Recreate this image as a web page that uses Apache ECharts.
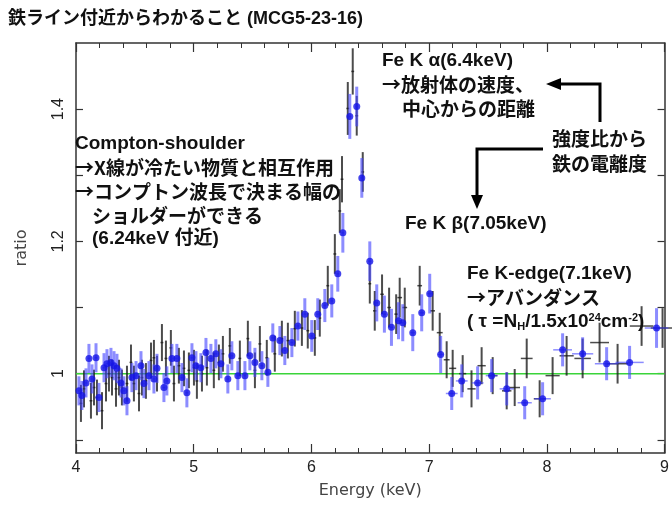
<!DOCTYPE html>
<html>
<head>
<meta charset="utf-8">
<script src="https://cdn.jsdelivr.net/npm/echarts@6/dist/echarts.min.js"></script>
<style>html,body{margin:0;padding:0;background:#fff}#c{width:672px;height:507px}</style>
</head>
<body>
<div id="c"></div>
<script>
// [energy keV, ratio, ratio error, energy half-width]
const blackPoints = [
[4.042,0.955,.028,.012],[4.068,0.977,.028,.012],[4.127,0.959,.027,.012],[4.153,0.979,.027,.012],
[4.178,0.964,.027,.012],[4.221,0.944,.028,.012],[4.255,0.985,.027,.012],[4.28,1.0,.027,.012],
[4.306,0.994,.027,.012],[4.34,0.977,.027,.012],[4.365,0.994,.027,.012],[4.39,0.979,.027,.012],
[4.433,0.985,.027,.012],[4.467,1.017,.027,.012],[4.492,0.985,.027,.012],[4.535,0.970,.027,.012],
[4.56,0.994,.027,.012],[4.594,0.989,.027,.012],[4.637,1.020,.027,.012],[4.662,1.024,.027,.012],
[4.688,1.0,.027,.012],[4.73,1.047,.028,.012],[4.764,1.023,.027,.012],[4.806,1.039,.027,.012],
[4.832,0.985,.027,.012],[4.874,1.012,.027,.012],[4.917,1.008,.027,.012],[4.959,1.005,.027,.012],
[5.002,1.009,.027,.012],[5.027,0.989,.027,.012],[5.07,1.0,.027,.012],[5.112,1.009,.027,.012],
[5.171,1.005,.027,.012],[5.214,1.017,.027,.012],[5.248,1.030,.027,.012],[5.307,1.042,.027,.012],
[5.392,1.023,.027,.012],[5.46,1.053,.027,.012],[5.52,1.005,.027,.012],[5.562,1.045,.027,.012],
[5.621,1.024,.027,.012],[5.689,1.030,.027,.012],[5.749,1.053,.027,.012],[5.8,1.050,.027,.012],
[5.859,1.068,.027,.012],[5.919,1.069,.027,.012],[5.969,1.065,.027,.012],[6.029,1.054,.027,.012],
[6.071,1.084,.028,.012],[6.139,1.133,.03,.012],[6.199,1.181,.03,.012],[6.241,1.246,.033,.012],
[6.26,1.294,.035,.012],[6.309,1.401,.04,.012],[6.351,1.457,.035,.012],[6.385,1.39,.03,.012],
[6.436,1.305,.03,.012],[6.496,1.136,.03,.012],[6.538,1.095,.03,.015],[6.60,1.12,.03,.015],
[6.66,1.10,.03,.015],[6.72,1.09,.03,.015],[6.75,1.115,.03,.02],[6.793,1.10,.03,.02],
[6.92,1.133,.03,.02],[7.03,1.095,.03,.02],[7.09,1.062,.03,.025],[7.149,1.021,.028,.025],
[7.2,1.008,.028,.03],[7.285,1.0,.028,.03],[7.36,0.977,.028,.035],[7.446,1.012,.028,.035],
[7.54,0.997,.028,.04],[7.659,0.974,.028,.04],[7.727,0.979,.028,.045],[7.829,1.023,.03,.05],
[7.939,0.962,.028,.05],[8.049,0.997,.028,.06],[8.168,1.027,.03,.06],[8.304,1.023,.03,.07],
[8.448,1.047,.03,.08],[8.601,1.015,.03,.09],[8.805,1.072,.03,.1],[8.983,1.069,.03,.1]
];
const bluePoints = [
[4.025,0.974,.022,.012],[4.05,0.967,.022,.012],[4.085,0.986,.022,.012],[4.11,1.023,.022,.012],
[4.136,0.992,.022,.012],[4.17,1.024,.022,.012],[4.195,0.964,.022,.012],[4.238,1.009,.022,.012],
[4.263,1.015,.022,.012],[4.297,1.017,.022,.012],[4.323,1.012,.022,.012],[4.348,1.008,.022,.012],
[4.382,0.986,.022,.012],[4.407,0.974,.022,.012],[4.433,0.959,.022,.012],[4.475,0.994,.022,.012],
[4.51,0.997,.022,.012],[4.552,1.012,.022,.012],[4.577,0.985,.022,.012],[4.62,0.997,.022,.012],
[4.662,0.992,.022,.012],[4.688,1.008,.022,.012],[4.747,0.979,.022,.012],[4.772,0.989,.022,.012],
[4.815,1.023,.022,.012],[4.857,1.023,.022,.012],[4.9,0.994,.022,.012],[4.942,0.971,.022,.012],
[4.985,1.024,.022,.012],[5.019,1.012,.022,.012],[5.061,1.009,.022,.012],[5.104,1.032,.022,.012],
[5.146,1.023,.022,.012],[5.188,1.030,.022,.012],[5.231,1.015,.022,.012],[5.29,0.992,.022,.012],
[5.324,1.027,.022,.012],[5.375,0.997,.022,.012],[5.435,0.997,.022,.012],[5.477,1.027,.022,.012],
[5.52,1.017,.022,.012],[5.579,1.012,.022,.012],[5.63,1.002,.022,.012],[5.672,1.054,.022,.012],
[5.732,1.050,.022,.012],[5.774,1.035,.022,.012],[5.834,1.047,.022,.012],[5.885,1.072,.022,.012],
[5.944,1.090,.024,.012],[6.003,1.057,.024,.012],[6.054,1.090,.024,.012],[6.114,1.103,.025,.012],
[6.173,1.110,.025,.012],[6.224,1.151,.027,.012],[6.267,1.213,.03,.012],[6.326,1.389,.034,.012],
[6.385,1.404,.03,.012],[6.428,1.296,.03,.012],[6.496,1.170,.03,.012],[6.555,1.107,.028,.012],
[6.62,1.09,.028,.015],[6.68,1.07,.028,.015],[6.74,1.08,.028,.015],[6.776,1.077,.028,.02],
[6.861,1.062,.028,.02],[6.937,1.092,.028,.02],[7.005,1.121,.03,.02],[7.098,1.029,.028,.025],
[7.192,0.970,.025,.05],[7.277,0.989,.025,.05],[7.412,0.986,.025,.05],[7.531,0.997,.025,.05],
[7.659,0.977,.025,.06],[7.812,0.956,.025,.06],[7.964,0.962,.025,.07],[8.134,1.036,.025,.08],
[8.304,1.030,.025,.09],[8.508,1.015,.025,.1],[8.703,1.017,.025,.12],[8.932,1.069,.03,.1]
];
const unityLine = [[4,1],[9,1]];
const xRange = [4, 9];
const yRange = [0.88, 1.5];
const yTickValues = [0.9, 1.0, 1.1, 1.2, 1.3, 1.4];
const yLabelValues = [1, 1.2, 1.4];

const chart = echarts.init(document.getElementById('c'), null, {renderer:'canvas'});
const LATIN = '"Liberation Sans", Arial, "Noto Sans CJK JP", sans-serif';
const CJK = '"Noto Sans CJK JP", sans-serif';

function errRender(color, width) {
  return function (params, api) {
    const x = api.value(0), y = api.value(1), ey = api.value(2), ex = api.value(3);
    const t = api.coord([x, y + ey]), b = api.coord([x, y - ey]);
    const l = api.coord([x - ex, y]), r = api.coord([x + ex, y]);
    return {type:'group', children:[
      {type:'line', shape:{x1:t[0], y1:t[1], x2:b[0], y2:b[1]}, style:{stroke:color, lineWidth:width}},
      {type:'line', shape:{x1:l[0], y1:l[1], x2:r[0], y2:r[1]}, style:{stroke:color, lineWidth:1.5}}
    ]};
  };
}

const axisCol = '#333';
const xBase = {
  type:'value', min:xRange[0], max:xRange[1], interval:1,
  axisLine:{show:true, onZero:false, lineStyle:{color:axisCol, width:1.5}},
  axisTick:{show:true, inside:true, length:9, lineStyle:{color:axisCol, width:1.2}},
  minorTick:{show:true, splitNumber:5, length:5, lineStyle:{color:axisCol, width:1}},
  splitLine:{show:false}, minorSplitLine:{show:false}
};
const yBase = {
  type:'value', min:yRange[0], max:yRange[1],
  axisLine:{show:true, onZero:false, lineStyle:{color:axisCol, width:1.5}},
  axisTick:{show:true, inside:true, length:7, customValues:yTickValues, lineStyle:{color:axisCol, width:1.2}},
  splitLine:{show:false}
};

function txt(x, y, s, size, fam) {
  return {type:'text', left:x, top:y - size/2 - 1, z:100,
    style:{text:s, font:'bold ' + size + 'px ' + (fam || LATIN), fill:'#111'}};
}

const option = {
  animation:false,
  backgroundColor:'#fff',
  grid:{left:76, right:6, top:43, bottom:54},
  xAxis:[
    Object.assign({}, xBase, {position:'bottom',
      axisLabel:{show:true, fontSize:16, color:'#222', margin:7, fontFamily:LATIN},
      name:'Energy (keV)', nameLocation:'middle', nameGap:30,
      nameTextStyle:{fontSize:16, color:'#444', fontFamily:'"DejaVu Sans", sans-serif'}}),
    Object.assign({}, xBase, {position:'top', axisLabel:{show:false}})
  ],
  yAxis:[
    Object.assign({}, yBase, {position:'left',
      axisLabel:{show:true, customValues:yLabelValues, rotate:90, fontSize:16, color:'#222', margin:9, fontFamily:LATIN,
        formatter:function(v){return String(Math.round(v*10)/10);}},
      name:'ratio', nameLocation:'middle', nameGap:46, nameRotate:90,
      nameTextStyle:{fontSize:16, color:'#444', fontFamily:'"DejaVu Sans", sans-serif'}}),
    Object.assign({}, yBase, {position:'right', axisLabel:{show:false}})
  ],
  series:[
    {type:'line', data:unityLine, symbol:'none', lineStyle:{color:'#3ad43a', width:1.5}, z:1, silent:true},
    {type:'custom', data:blackPoints, renderItem:errRender('rgba(25,25,25,0.78)', 2), z:2, silent:true},
    {type:'custom', data:bluePoints, renderItem:errRender('rgba(70,70,255,0.62)', 3), z:3, silent:true},
    {type:'scatter', data:bluePoints.map(p => [p[0], p[1]]), symbol:'circle', symbolSize:7,
      itemStyle:{color:'#1414e6'}, z:4, silent:true}
  ],
  graphic:[
    txt(8, 20, '鉄ライン付近からわかること (MCG5-23-16)', 18),
    txt(75, 145, 'Compton-shoulder', 19),
    txt(75, 169, '→X線が冷たい物質と相互作用', 19, CJK),
    txt(75, 193, '→コンプトン波長で決まる幅の', 19, CJK),
    txt(92, 217, 'ショルダーができる', 19, CJK),
    txt(92, 240, '(6.24keV 付近)', 19),
    txt(382, 62, 'Fe K α(6.4keV)', 19),
    txt(382, 86, '→放射体の速度、', 19, CJK),
    txt(402, 110, '中心からの距離', 19, CJK),
    txt(552, 140, '強度比から', 19, CJK),
    txt(552, 165, '鉄の電離度', 19, CJK),
    txt(405, 225, 'Fe K β(7.05keV)', 19),
    txt(467, 275, 'Fe K-edge(7.1keV)', 19),
    txt(467, 299, '→アバンダンス', 19, CJK),
    {type:'text', left:467, top:312, z:100, style:{
      text:'( τ =N{sub|H}/1.5x10{sup|24}cm{sup|-2})',
      font:'bold 19px ' + LATIN, fill:'#111',
      rich:{sub:{font:'bold 11px ' + LATIN, fill:'#111', verticalAlign:'bottom', padding:[9,0,0,0]},
            sup:{font:'bold 11px ' + LATIN, fill:'#111', verticalAlign:'top', padding:[0,0,9,0]}}}},
    {type:'polyline', z:100, shape:{points:[[600,122],[600,84],[558,84]]}, style:{stroke:'#000', lineWidth:3, fill:null}},
    {type:'polygon', z:100, shape:{points:[[546,84],[561,78],[561,90]]}, style:{fill:'#000'}},
    {type:'polyline', z:100, shape:{points:[[543,149],[477,149],[477,196]]}, style:{stroke:'#000', lineWidth:3, fill:null}},
    {type:'polygon', z:100, shape:{points:[[477,209],[471,195],[483,195]]}, style:{fill:'#000'}}
  ]
};
chart.setOption(option);
</script>
</body>
</html>
